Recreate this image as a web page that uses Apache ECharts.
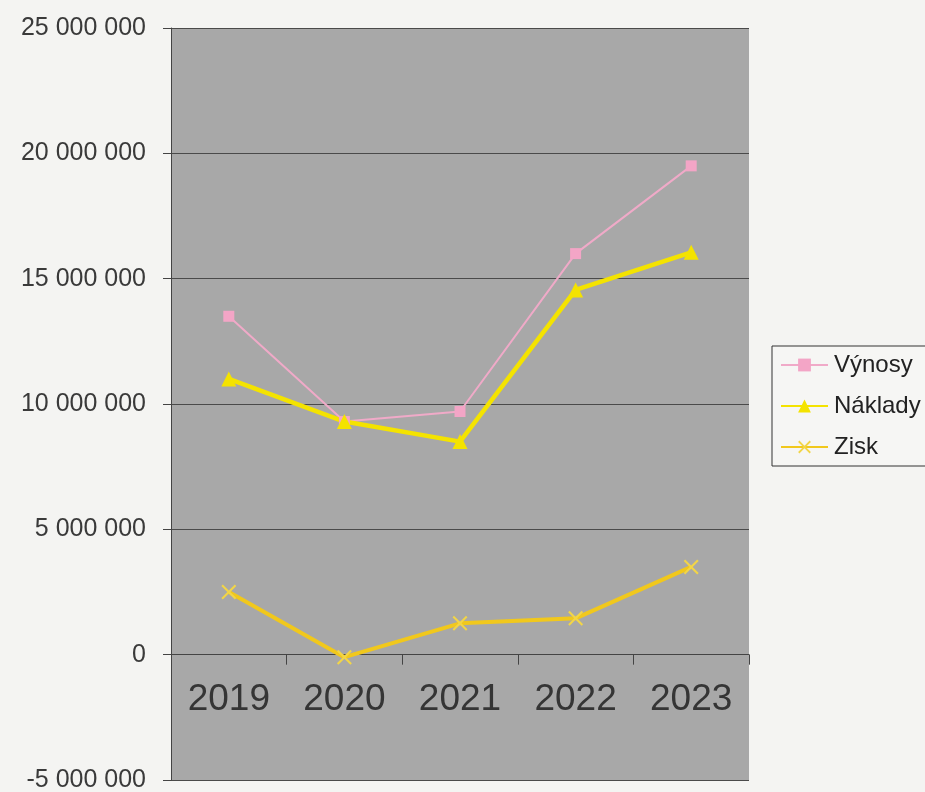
<!DOCTYPE html>
<html>
<head>
<meta charset="utf-8">
<script src="https://cdn.jsdelivr.net/npm/echarts@6/dist/echarts.min.js"></script>
<style>
  html, body { margin: 0; padding: 0; background: #f4f4f2; }
  #chart { width: 925px; height: 792px; }
</style>
</head>
<body>
<div id="chart"></div>
<script>
// roky
const years = ["2019", "2020", "2021", "2022", "2023"];
// hodnoty
const vynosy = [13500000, 9300000, 9700000, 16000000, 19500000];
const naklady = [11000000, 9300000, 8500000, 14550000, 16050000];
const zisk = [2500000, -100000, 1250000, 1450000, 3500000];

const crossPath = "path://M0,1L1,0L5,4L9,0L10,1L6,5L10,9L9,10L5,6L1,10L0,9L4,5Z";

function fmt(v) {
  const s = String(Math.abs(v)).replace(/\B(?=(\d{3})+(?!\d))/g, " ");
  return (v < 0 ? "-" : "") + s;
}

let myChart = echarts.init(document.getElementById("chart"));
myChart.setOption({
  backgroundColor: "#f4f4f2",
  animation: false,
  textStyle: { fontFamily: "Liberation Sans, Arial, sans-serif" },
  grid: {
    left: 171,
    top: 28,
    right: 176,
    bottom: 12,
    containLabel: false,
    outerBoundsMode: "none",
    show: true,
    backgroundColor: "#a8a8a8",
    borderWidth: 0
  },
  legend: {
    orient: "vertical",
    left: 772,
    top: 346,
    padding: [7, 60, 7, 8],
    itemGap: 17,
    itemWidth: 47,
    itemHeight: 16,
    borderColor: "#333",
    borderWidth: 1,
    backgroundColor: "#f6f6f4",
    textStyle: { fontSize: 24, lineHeight: 24, color: "#222", padding: [0, 0, 0, 1] },
    data: ["Výnosy", "Náklady", "Zisk"]
  },
  xAxis: {
    type: "category",
    data: years,
    boundaryGap: true,
    axisLine: { onZero: true, lineStyle: { color: "#444", width: 1 } },
    axisTick: { show: true, length: 10, lineStyle: { color: "#444" } },
    axisLabel: {
      fontSize: 37,
      color: "#353535",
      // popisky leží uvnitř grafu pod nulovou osou
      margin: -99
    }
  },
  yAxis: {
    type: "value",
    min: -5000000,
    max: 25000000,
    interval: 5000000,
    axisLine: { show: true, lineStyle: { color: "#444" } },
    axisTick: { show: true, length: 8, lineStyle: { color: "#444" } },
    axisLabel: {
      fontSize: 25,
      color: "#3a3a3a",
      margin: 25,
      formatter: fmt
    },
    splitLine: { lineStyle: { color: "#4a4a4a", width: 1 } }
  },
  series: [
    {
      name: "Výnosy",
      type: "line",
      data: vynosy,
      symbol: "rect",
      symbolSize: 11,
      itemStyle: { color: "#f3a5c6" },
      lineStyle: { color: "#f0aac8", width: 2 }
    },
    {
      name: "Náklady",
      type: "line",
      data: naklady,
      symbol: "triangle",
      symbolSize: 15,
      itemStyle: { color: "#f4e300" },
      lineStyle: { color: "#f4e300", width: 4.5 }
    },
    {
      name: "Zisk",
      type: "line",
      data: zisk,
      symbol: crossPath,
      symbolSize: 15,
      itemStyle: { color: "#f2d547" },
      lineStyle: { color: "#f1c81c", width: 4 }
    }
  ]
});
</script>
</body>
</html>
